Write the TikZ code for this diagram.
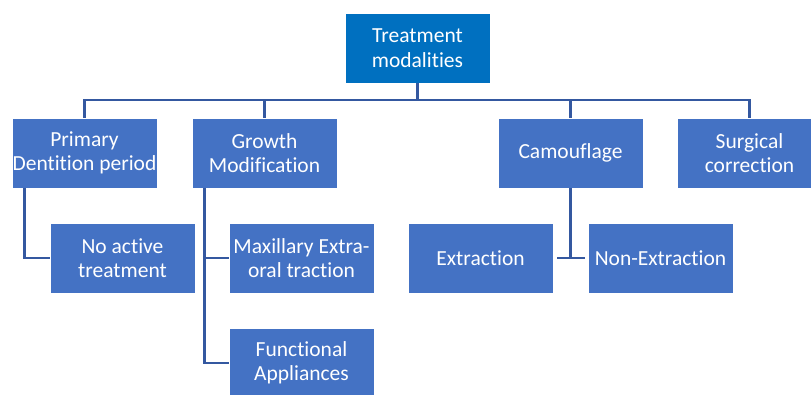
\documentclass[tikz,border=0pt]{standalone}
\usepackage{fontspec}
\setmainfont{Carlito}[Ligatures=NoCommon]
\definecolor{topblue}{RGB}{0,112,192}
\definecolor{boxblue}{RGB}{68,114,196}
\definecolor{linkblue}{RGB}{52,88,160}
\begin{document}
\begin{tikzpicture}[x=1pt,y=-1pt,
  box/.style={fill=boxblue,draw=white,line width=0.8pt,minimum width=145pt,minimum height=70pt,
    inner sep=0pt,align=center,text=white,font=\fontsize{21.5}{24.5}\selectfont},
  topbox/.style={box,fill=topblue},
  conn/.style={draw=linkblue,line width=2.6pt}]
\useasboundingbox (0,0) rectangle (811,394);
\clip (0,0) rectangle (811,394);
\node[topbox] (top) at (417.5,48) {Treatment\\modalities};
\node[box] (prim) at (84.5,153) {Primary\\Dentition period};
\node[box] (grow) at (264.5,153) {Growth\\Modification};
\node[box] (camo) at (570.5,153) {Camouflage};
\node[box] (surg) at (749.5,153) {Surgical\\correction};
\node[box] (noact) at (122.5,258) {No active\\treatment};
\node[box] (maxi) at (301.5,258) {Maxillary Extra-\\oral traction};
\node[box] (func) at (301.5,363) {Functional\\Appliances};
\node[box] (ext) at (480.5,258) {Extraction};
\node[box] (nonx) at (660.5,258) {Non-Extraction};
\coordinate (bus) at (417.5,100);
\coordinate (p1) at ([xshift=13pt]prim.south west);
\coordinate (g1) at ([xshift=13pt]grow.south west);
\draw[conn] (top.south) -- (bus);
\draw[conn] (prim.north) |- (bus) -| (surg.north);
\draw[conn] (grow.north) -- (grow.north |- bus);
\draw[conn] (camo.north) -- (camo.north |- bus);
\draw[conn] (p1) |- (noact.west);
\draw[conn] (g1) |- (func.west);
\draw[conn] (maxi.west -| g1) -- (maxi.west);
\draw[conn] (camo.south) -- (camo.south |- ext.east);
\draw[conn] ([xshift=4pt]ext.east) -- ([xshift=-3pt]nonx.west);
\end{tikzpicture}
\end{document}
